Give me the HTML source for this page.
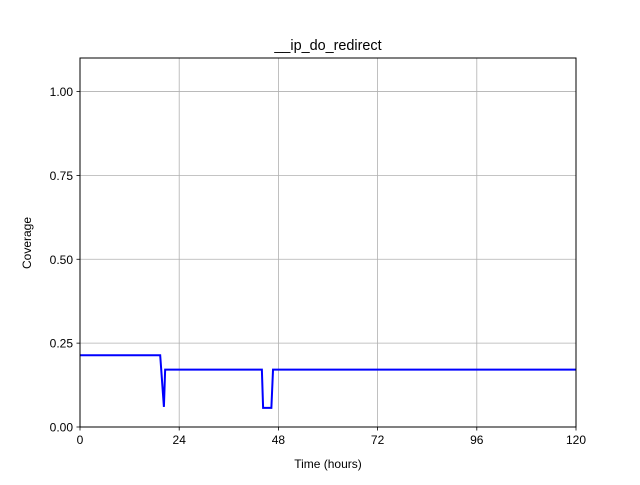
<!DOCTYPE html>
<html><head><meta charset="utf-8"><style>
body{margin:0;background:#fff;font-family:"Liberation Sans","DejaVu Sans",sans-serif}
</style></head><body>
<svg id="chart" width="640" height="480" xmlns="http://www.w3.org/2000/svg">
<rect width="640" height="480" fill="#fff"/>
<g id="grid"></g>
<g id="ticks"></g>
<path id="line" fill="none" stroke="#0000ff" stroke-width="2"/>
<rect x="80" y="58" width="496" height="369" fill="none" stroke="#000" stroke-width="1"/>
<text x="328" y="50" font-size="14.4" text-anchor="middle">__ip_do_redirect</text>
<text x="328" y="468" font-size="12" text-anchor="middle">Time (hours)</text>
<text x="31" y="243" font-size="12" text-anchor="middle" transform="rotate(-90 31 243)">Coverage</text>
</svg>
<script>
const xTicks=[0,24,48,72,96,120];
const yTicks=[0,0.25,0.5,0.75,1.0];
const yTickLabels=["0.00","0.25","0.50","0.75","1.00"];
const times=[0,19.4,20.3,20.6,44,44.3,46.3,46.7,120];
const coverage=[0.214,0.214,0.06,0.171,0.171,0.057,0.057,0.171,0.171];
const L=80,R=576,T=58,B=427,xMax=120,yMax=1.1;
const sx=v=>L+(v/xMax)*(R-L);
const sy=v=>B-(v/yMax)*(B-T);
const NS="http://www.w3.org/2000/svg";
const grid=document.getElementById('grid'),ticks=document.getElementById('ticks');
function mk(tag,attrs,parent){const e=document.createElementNS(NS,tag);for(const k in attrs)e.setAttribute(k,attrs[k]);parent.appendChild(e);return e;}
xTicks.forEach(v=>{
 const x=sx(v);
 const g=mk('line',{x1:x,x2:x,y1:T,y2:B,stroke:'#b0b0b0','stroke-width':0.8},grid);
 
 
 const t=mk('line',{x1:x,x2:x,y1:B,y2:B+3.5,stroke:'#000','stroke-width':0.8},ticks);
 
 
 const l=mk('text',{x:x,y:B+17,'font-size':12,'text-anchor':'middle'},ticks);
 l.textContent=v;
 
 
});
yTicks.forEach((v,i)=>{
 const y=sy(v);
 const g=mk('line',{x1:L,x2:R,y1:y,y2:y,stroke:'#b0b0b0','stroke-width':0.8},grid);
 
 
 const t=mk('line',{x1:L-3.5,x2:L,y1:y,y2:y,stroke:'#000','stroke-width':0.8},ticks);
 
 
 const l=mk('text',{x:L-7,y:y+4.5,'font-size':12,'text-anchor':'end'},ticks);
 l.textContent=yTickLabels[i];
 
 
});
document.getElementById('line').setAttribute('d',times.map((t,i)=>(i?'L':'M')+sx(t)+' '+sy(coverage[i])).join(' '));
</script>
</body></html>
